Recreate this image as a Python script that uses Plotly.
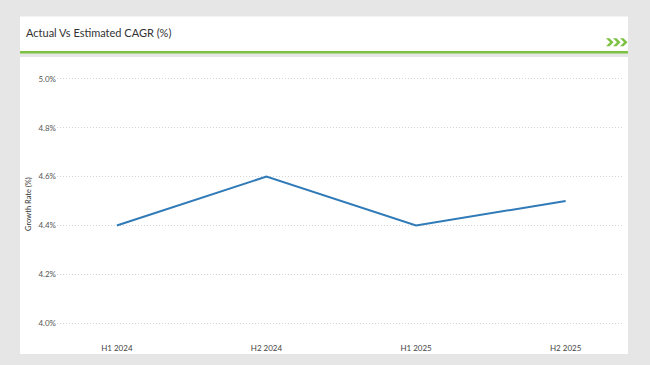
import plotly.graph_objects as go

categories = ["H1 2024", "H2 2024", "H1 2025", "H2 2025"]
growth_rate = [4.4, 4.6, 4.4, 4.5]
y_ticks = [4.0, 4.2, 4.4, 4.6, 4.8, 5.0]
y_tick_labels = ["4.0%", "4.2%", "4.4%", "4.6%", "4.8%", "5.0%"]

W, H = 650, 365
L, R, T, B = 57, 26, 70, 25
PW, PH = W - L - R, H - T - B


def px(x):
    return (x - L) / PW


def py(y):
    return (H - B - y) / PH


fig = go.Figure()
fig.add_trace(go.Scatter(
    x=categories, y=growth_rate, mode="lines",
    line=dict(color="#2f7ab7", width=2), hoverinfo="skip", showlegend=False,
))

shapes = [
    dict(type="rect", xref="paper", yref="paper", x0=px(20), x1=px(628), y0=py(52), y1=py(16),
         fillcolor="white", line=dict(width=0), layer="below"),
    dict(type="rect", xref="paper", yref="paper", x0=px(20), x1=px(628), y0=py(356), y1=py(57),
         fillcolor="white", line=dict(width=0), layer="below"),
    dict(type="line", xref="paper", yref="paper", x0=px(20), x1=px(628), y0=py(52), y1=py(52),
         line=dict(color="#7cc142", width=2.5)),
]
for i in range(3):
    x0 = 606 + i * 7
    pts = [(x0, 38), (x0 + 3.5, 38), (x0 + 7.5, 42), (x0 + 3.5, 46), (x0, 46), (x0 + 4, 42)]
    path = "M " + " L ".join(f"{px(a)},{py(b)}" for a, b in pts) + " Z"
    shapes.append(dict(type="path", xref="paper", yref="paper", path=path,
                       fillcolor="#7cc142", line=dict(width=0)))

fig.update_layout(
    width=W, height=H,
    margin=dict(l=L, r=R, t=T, b=B),
    paper_bgcolor="#e6e6e6", plot_bgcolor="rgba(0,0,0,0)",
    font=dict(family="Lato, Open Sans, sans-serif", color="#555", size=8),
    shapes=shapes,
    annotations=[
        dict(text="Actual Vs Estimated CAGR (%)", xref="paper", yref="paper",
             x=px(24), y=py(32), xanchor="left", yanchor="middle", showarrow=False,
             font=dict(size=11, color="#333")),
    ],
    xaxis=dict(
        range=[-0.4, 3.39], showgrid=False, zeroline=False, showline=False,
        ticks="", tickfont=dict(size=8, color="#444"), ticklabelstandoff=4,
    ),
    yaxis=dict(
        range=[4.0 - 15 / 246, 5.0 + 9 / 246], tickvals=y_ticks, ticktext=y_tick_labels,
        showgrid=True, gridcolor="#d4d4d4", griddash="1px,2px", gridwidth=1,
        zeroline=False, showline=False, ticks="",
        tickfont=dict(size=8, color="#555"),
        title=dict(text="Growth Rate (%)", font=dict(size=7.5, color="#333"), standoff=5),
    ),
)

fig.write_html(
    "out.html",
    config={"displayModeBar": False},
    post_script="document.body.style.margin='0';document.body.style.background='#e6e6e6';",
)
